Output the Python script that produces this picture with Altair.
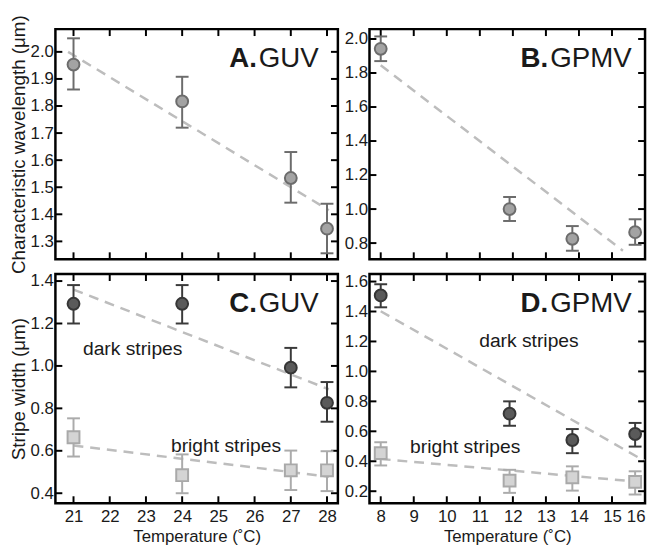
import altair as alt
import pandas as pd

FONT = "Liberation Sans"

# ---------------- data ----------------
guv_temp = [21, 24, 27, 28]
gpmv_temp = [8, 11.9, 13.8, 15.7]

a_wave = [1.953, 1.817, 1.534, 1.347]
a_wave_lo = [1.861, 1.720, 1.443, 1.256]
a_wave_hi = [2.050, 1.908, 1.630, 1.439]

b_wave = [1.942, 1.000, 0.825, 0.864]
b_wave_lo = [1.870, 0.930, 0.755, 0.790]
b_wave_hi = [2.015, 1.071, 0.900, 0.940]

c_dark = [1.293, 1.293, 0.992, 0.826]
c_dark_lo = [1.200, 1.200, 0.899, 0.737]
c_dark_hi = [1.381, 1.381, 1.085, 0.924]
c_bright = [0.664, 0.485, 0.508, 0.508]
c_bright_lo = [0.573, 0.400, 0.415, 0.410]
c_bright_hi = [0.753, 0.583, 0.601, 0.598]

d_dark = [1.507, 0.718, 0.542, 0.582]
d_dark_lo = [1.428, 0.637, 0.454, 0.498]
d_dark_hi = [1.582, 0.800, 0.615, 0.656]
d_bright = [0.454, 0.271, 0.293, 0.262]
d_bright_lo = [0.372, 0.189, 0.204, 0.178]
d_bright_hi = [0.527, 0.343, 0.366, 0.333]

# fitted trend lines (end points)
a_fit_x = [20.85, 28.05]
a_fit_y = [2.000, 1.415]
b_fit_x = [8.0, 15.33]
b_fit_y = [1.845, 0.755]
c_dark_fit_x = [21.0, 28.05]
c_dark_fit_y = [1.360, 0.890]
c_bright_fit_x = [21.0, 28.05]
c_bright_fit_y = [0.625, 0.478]
d_dark_fit_x = [8.0, 16.0]
d_dark_fit_y = [1.402, 0.400]
d_bright_fit_x = [8.0, 15.7]
d_bright_fit_y = [0.415, 0.265]

guv_ticks = [21, 22, 23, 24, 25, 26, 27, 28]
gpmv_ticks = [8, 9, 10, 11, 12, 13, 14, 15, 16]
a_yticks = [1.3, 1.4, 1.5, 1.6, 1.7, 1.8, 1.9, 2.0]
b_yticks = [0.8, 1.0, 1.2, 1.4, 1.6, 1.8, 2.0]
c_yticks = [0.4, 0.6, 0.8, 1.0, 1.2, 1.4]
d_yticks = [0.2, 0.4, 0.6, 0.8, 1.0, 1.2, 1.4, 1.6]

panel_letters = ["A.", "B.", "C.", "D."]
panel_names = ["GUV", "GPMV", "GUV", "GPMV"]
stripe_labels = ["dark stripes", "bright stripes"]

# ---------------- styles ----------------
MID = dict(fill="#a3a3a3", stroke="#6c6c6c", err="#6c6c6c", shape="circle")
DARK = dict(fill="#5a5a5a", stroke="#363636", err="#3a3a3a", shape="circle")
BRIGHT = dict(fill="#d4d4d4", stroke="#a9a9a9", err="#ababab", shape="square")
FIT_COLOR = "#bdbdbd"
TXT = "#1a1a1a"
TICK_LEN = 7


def series_df(x, y, lo, hi):
    return pd.DataFrame({"x": x, "y": y, "lo": lo, "hi": hi})


def fit_df(x, y):
    return pd.DataFrame({"x": x, "y": y})


def make_panel(W, H, xdom, ydom, xticks, yticks, series, fits, letter, name,
               ytitle, xlabels, notes, lx, nx, flush=False):
    xs = alt.Scale(domain=xdom, nice=False, zero=False)
    ys = alt.Scale(domain=ydom, nice=False, zero=False)
    ax_x_main = alt.Axis(orient="bottom", values=xticks, labels=xlabels,
                         ticks=False, tickSize=0, domain=False, grid=False,
                         title=("Temperature (˚C)" if xlabels else None),
                         labelFontSize=17, titleFontSize=17, labelFont=FONT,
                         titleFont=FONT, labelColor=TXT, titleColor=TXT,
                         labelPadding=6, titlePadding=4, labelFlush=flush,
                         titleFontWeight="normal")
    ax_y_main = alt.Axis(orient="left", values=yticks, format=".1f",
                         ticks=False, tickSize=0, domain=False, grid=False,
                         title=ytitle, labelFontSize=17, titleFontSize=19,
                         labelFont=FONT, titleFont=FONT, labelColor=TXT,
                         titleColor=TXT, labelPadding=2, titlePadding=2,
                         labelFlush=False, titleFontWeight="normal")

    layers = []
    for i, (fx, fy) in enumerate(fits):
        layers.append(
            alt.Chart(fit_df(fx, fy)).mark_line(
                stroke=FIT_COLOR, strokeWidth=2.5, strokeDash=[10, 7], clip=True
            ).encode(
                x=alt.X("x:Q", scale=xs, axis=ax_x_main if i == 0 else None),
                y=alt.Y("y:Q", scale=ys, axis=ax_y_main if i == 0 else None),
            )
        )

    # inward tick marks on all four sides of the frame
    xt = pd.DataFrame({"t": xticks})
    yt = pd.DataFrame({"t": yticks})
    tk = dict(color="black", strokeWidth=2)
    layers.append(alt.Chart(xt).mark_rule(**tk).encode(
        x=alt.X("t:Q", scale=xs, axis=None), y=alt.value(H), y2=alt.value(H - TICK_LEN)))
    layers.append(alt.Chart(xt).mark_rule(**tk).encode(
        x=alt.X("t:Q", scale=xs, axis=None), y=alt.value(0), y2=alt.value(TICK_LEN)))
    layers.append(alt.Chart(yt).mark_rule(**tk).encode(
        y=alt.Y("t:Q", scale=ys, axis=None), x=alt.value(0), x2=alt.value(TICK_LEN)))
    layers.append(alt.Chart(yt).mark_rule(**tk).encode(
        y=alt.Y("t:Q", scale=ys, axis=None), x=alt.value(W), x2=alt.value(W - TICK_LEN)))

    for df, st in series:
        layers.append(
            alt.Chart(df).mark_rule(color=st["err"], strokeWidth=2).encode(
                x=alt.X("x:Q", scale=xs, axis=None),
                y=alt.Y("lo:Q", scale=ys, axis=None),
                y2="hi:Q",
            )
        )
        for col in ("lo", "hi"):
            layers.append(
                alt.Chart(df).mark_tick(color=st["err"], orient="horizontal", size=13,
                                        thickness=2, opacity=1).encode(
                    x=alt.X("x:Q", scale=xs, axis=None),
                    y=alt.Y(f"{col}:Q", scale=ys, axis=None),
                )
            )
        layers.append(
            alt.Chart(df).mark_point(shape=st["shape"], filled=True, color=st["fill"],
                                     stroke=st["stroke"], strokeWidth=2, size=144,
                                     opacity=1).encode(
                x=alt.X("x:Q", scale=xs, axis=None),
                y=alt.Y("y:Q", scale=ys, axis=None),
            )
        )
    for (tx, ty, t) in notes:
        layers.append(
            alt.Chart(pd.DataFrame({"x": [tx], "y": [ty], "t": [t]})).mark_text(
                font=FONT, fontSize=19.5, align="left", baseline="alphabetic", color=TXT
            ).encode(
                x=alt.X("x:Q", scale=xs, axis=None),
                y=alt.Y("y:Q", scale=ys, axis=None),
                text="t:N",
            )
        )
    layers.append(
        alt.Chart(pd.DataFrame({"t": [letter]})).mark_text(
            font=FONT, fontSize=28, fontWeight="bold", align="left",
            baseline="alphabetic", color=TXT
        ).encode(x=alt.value(lx), y=alt.value(38), text="t:N")
    )
    layers.append(
        alt.Chart(pd.DataFrame({"t": [name]})).mark_text(
            font=FONT, fontSize=28, align="left", baseline="alphabetic", color=TXT
        ).encode(x=alt.value(nx), y=alt.value(38), text="t:N")
    )
    return alt.layer(*layers).properties(width=W, height=H).resolve_axis(
        x="independent", y="independent"
    )


WL, WR = 286, 279
HT, HB = 233, 232

panel_a = make_panel(
    WL, HT, [20.5, 28.3], [1.234, 2.084], guv_ticks, a_yticks,
    [(series_df(guv_temp, a_wave, a_wave_lo, a_wave_hi), MID)],
    [(a_fit_x, a_fit_y)], panel_letters[0], panel_names[0],
    "Characteristic wavelength (μm)", False, [], 176, 206,
)
panel_b = make_panel(
    WR, HT, [7.66, 16.0], [0.705, 2.058], gpmv_ticks, b_yticks,
    [(series_df(gpmv_temp, b_wave, b_wave_lo, b_wave_hi), MID)],
    [(b_fit_x, b_fit_y)], panel_letters[1], panel_names[1],
    None, False, [], 153, 183,
)
panel_c = make_panel(
    WL, HB, [20.5, 28.3], [0.353, 1.433], guv_ticks, c_yticks,
    [(series_df(guv_temp, c_dark, c_dark_lo, c_dark_hi), DARK),
     (series_df(guv_temp, c_bright, c_bright_lo, c_bright_hi), BRIGHT)],
    [(c_dark_fit_x, c_dark_fit_y), (c_bright_fit_x, c_bright_fit_y)],
    panel_letters[2], panel_names[2], "Stripe width (μm)", True,
    [(21.26, 1.051, stripe_labels[0]), (23.69, 0.595, stripe_labels[1])], 176, 206,
)
panel_d = make_panel(
    WR, HB, [7.66, 16.0], [0.12, 1.65], gpmv_ticks, d_yticks,
    [(series_df(gpmv_temp, d_dark, d_dark_lo, d_dark_hi), DARK),
     (series_df(gpmv_temp, d_bright, d_bright_lo, d_bright_hi), BRIGHT)],
    [(d_dark_fit_x, d_dark_fit_y), (d_bright_fit_x, d_bright_fit_y)],
    panel_letters[3], panel_names[3], None, True,
    [(10.98, 1.165, stripe_labels[0]), (8.89, 0.452, stripe_labels[1])], 153, 183,
    flush=True,
)

chart = alt.concat(
    panel_a, panel_b, panel_c, panel_d,
    columns=2, spacing={"row": 15, "column": 32}, bounds="flush",
).properties(
    padding={"left": 0, "top": 2, "right": 0, "bottom": 0},
    background="white",
).configure_view(stroke="black", strokeWidth=2.5)

chart.save("out.html", embed_options={"renderer": "svg", "actions": False})
